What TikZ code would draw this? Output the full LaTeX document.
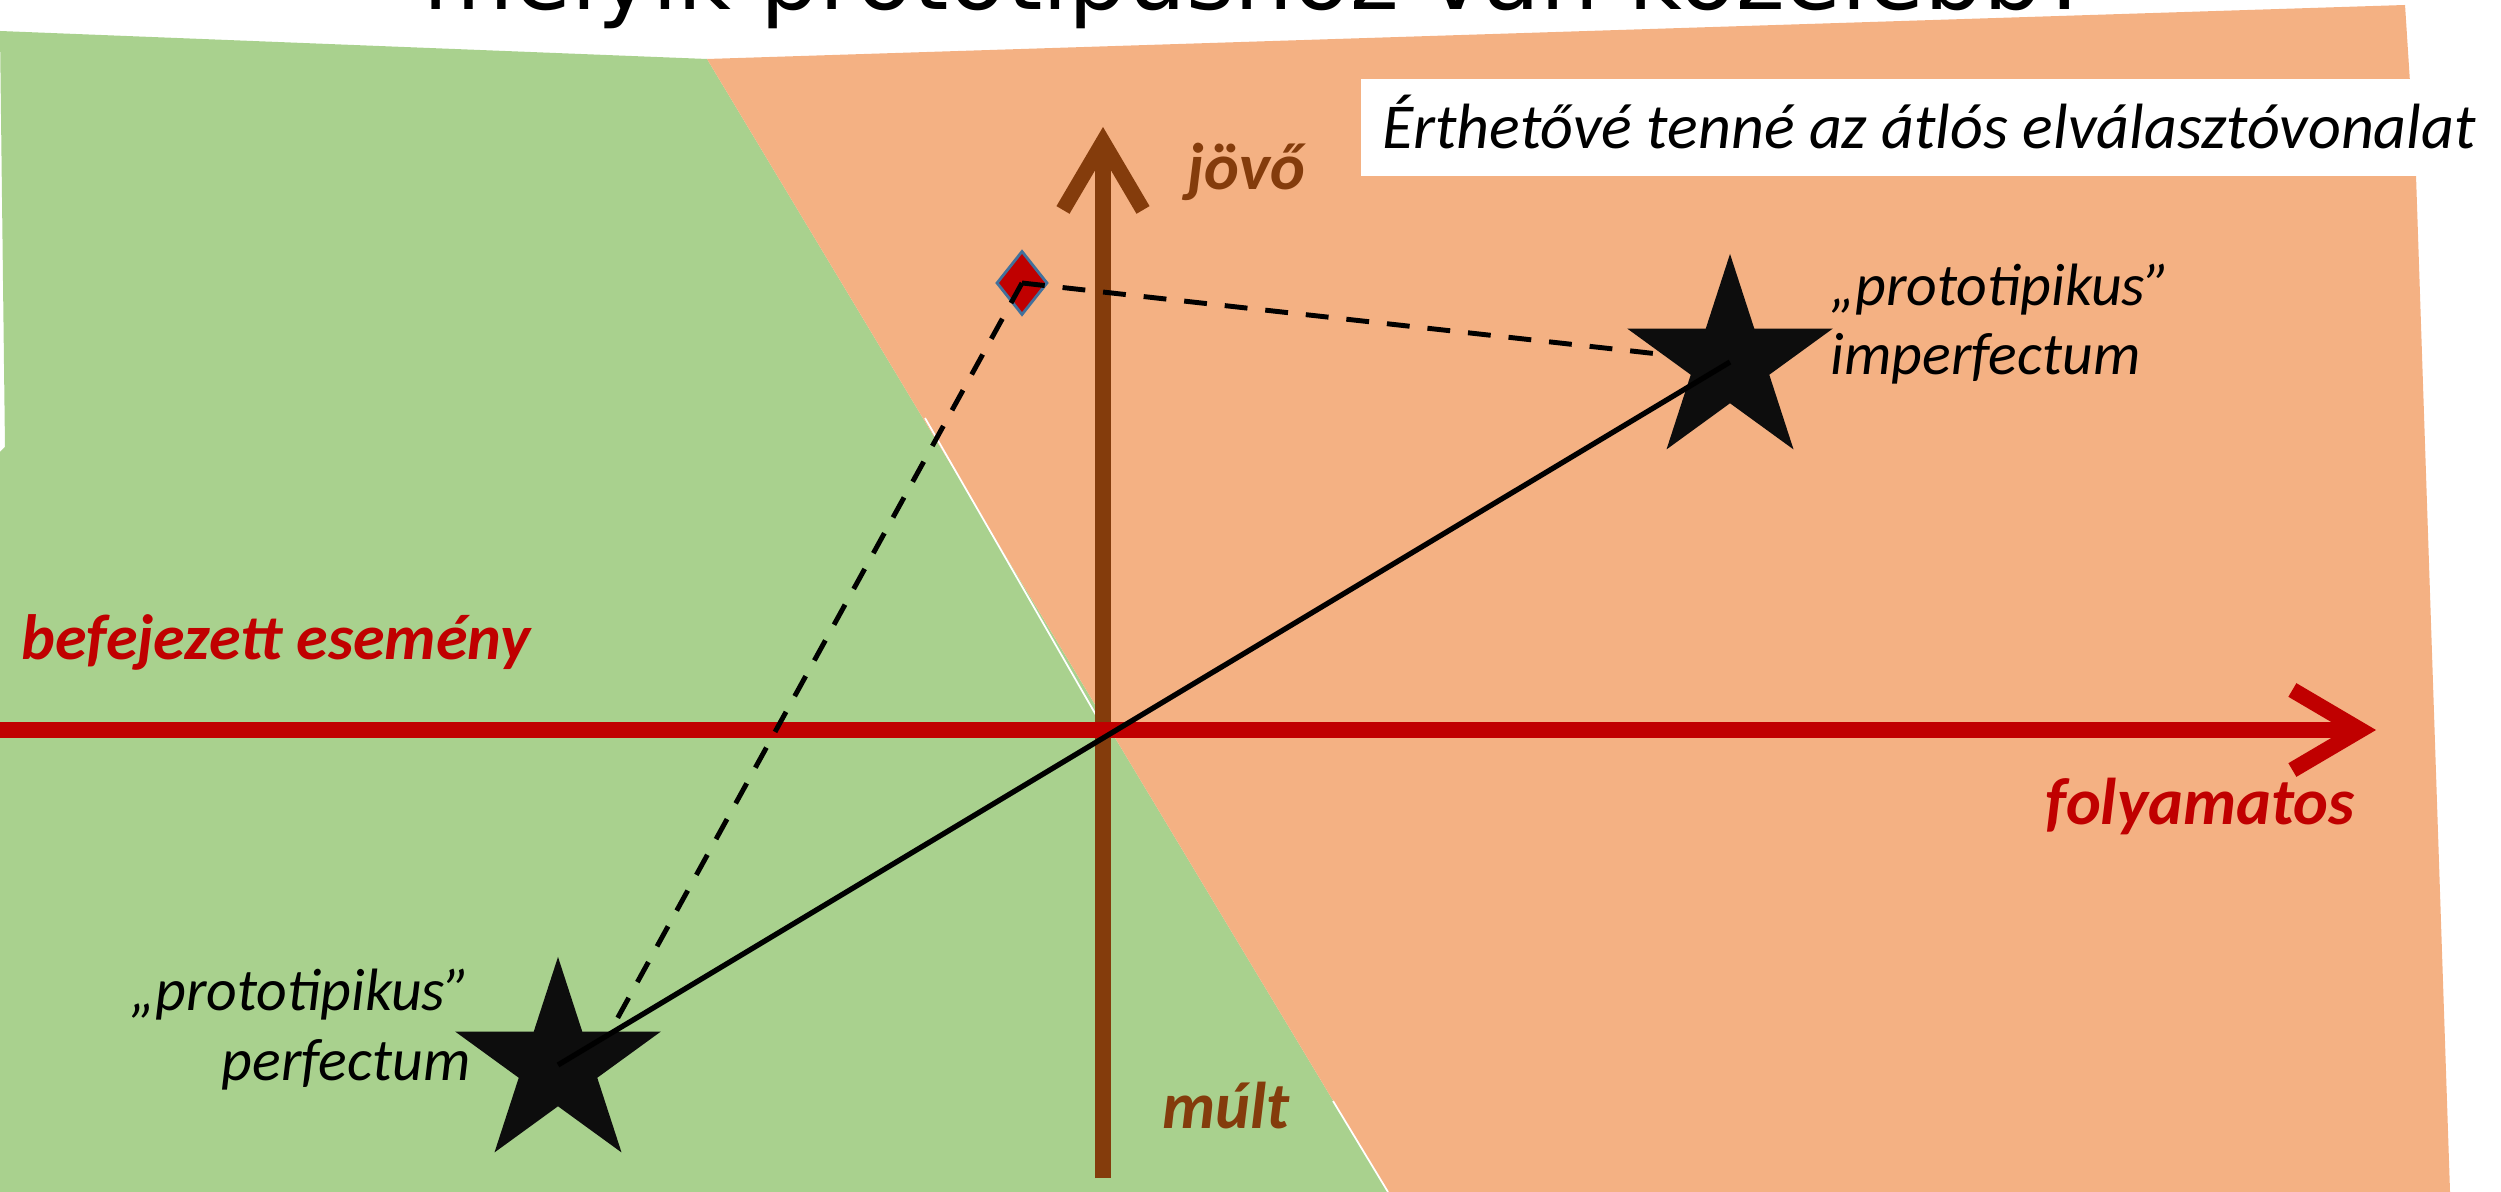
\documentclass[tikz,border=0pt]{standalone}
\usepackage{fontspec}
\setmainfont{Carlito}
\newfontfamily\cimbetu{DejaVu Sans}
\usetikzlibrary{shapes.geometric,arrows.meta}
\definecolor{zold}{HTML}{A9D18E}
\definecolor{narancs}{HTML}{F4B183}
\definecolor{piros}{HTML}{C00000}
\definecolor{barna}{HTML}{843C0C}
\definecolor{kek}{HTML}{41719C}
\definecolor{fekete}{HTML}{0D0D0D}
\newcommand{\betu}[0]{\fontsize{17}{19.9}\selectfont\itshape}
\newcommand{\nagybetu}[0]{\fontsize{18.8}{22}\selectfont\itshape\bfseries}
\newcommand{\nyilhegy}[0]{Straight Barb[length=0.68cm,width=0.80cm,line join=miter]}
\newcommand{\csillag}[2]{\node[csillagalak] (#1) at (#2) {}}

\begin{document}
\begin{tikzpicture}[x=0.01cm, y=-0.01cm,
	csillagalak/.style={star, star points=5, star point ratio=2.618,
		minimum size=2.16cm, inner sep=0, fill=fekete},
	rombusz/.style={diamond, minimum width=0.51cm, minimum height=0.64cm,
		inner sep=0, fill=piros, draw=kek, line width=0.8pt},
	szoveg/.style={font=\betu, inner sep=0},
	tengelyfelirat/.style={font=\nagybetu, inner sep=0},
	szaggatott/.style={line width=1.4pt, dash pattern=on 6.5pt off 5.1pt}]
%Background
	\useasboundingbox (0,0) rectangle (2501,1192);
	\clip (0,0) rectangle (2501,1192);
	\fill[zold] (0,31) -- (707,59) -- (1388,1192) -- (0,1192) -- (0,452) -- (5,447) -- cycle;
	\fill[narancs] (707,59) -- (2405,5) -- (2416,176) -- (2450,1192) -- (1388,1192) -- cycle;
	\draw[white, line width=0.5pt] (925,418) -- (1100,722);
	\draw[white, line width=0.5pt] (1333,1101) -- (1388,1192);
%Title and note
	\node[font=\cimbetu\fontsize{26.4}{30}\selectfont, anchor=base west, inner sep=0]
		(cim) at (423,10) {melyik prototípushoz van közelebb?};
	\node[font=\fontsize{18.2}{20}\selectfont\itshape, fill=white, anchor=base west,
		inner ysep=0, inner xsep=0.22cm, text height=0.70cm, text depth=0.27cm]
		(megj) at (1360,149) {Érthetővé tenné az átlós elválasztóvonalat};
%Axes
	\coordinate (bal) at (0,730);
	\coordinate (jobb) at (2376,730);
	\coordinate (lent) at (1103,1178);
	\coordinate (fent) at (1103,127);
	\draw[barna, line width=4.3pt, -{\nyilhegy}] (lent) -- (fent);
	\draw[piros, line width=4.5pt, -{\nyilhegy}] (bal) -- (jobb);
	\node[tengelyfelirat, font=\fontsize{18.2}{22}\selectfont\itshape\bfseries, text=piros,
		anchor=base west] (bef) at (21,660) {befejezett esemény};
	\node[tengelyfelirat, text=piros, anchor=base east] (foly) at (2355,824) {folyamatos};
	\node[tengelyfelirat, text=barna, anchor=base west] (jovo) at (1187,190) {jövő};
	\node[tengelyfelirat, text=barna, anchor=base west] (mult) at (1162,1128) {múlt};
%Prototypes
	\coordinate (pfk) at (558,1065);
	\coordinate (ipfk) at (1730,362);
	\coordinate (pfv) at (600,1050);
	\node[rombusz] (rb) at (1022,283) {};
	\draw[szaggatott] (rb.center) -- (pfv);
	\draw[szaggatott] (rb.center) -- (ipfk);
	\csillag{pf}{pfk};
	\csillag{ipf}{ipfk};
	\draw[line width=1.5pt] (pf.center) -- (ipf.center);
	\node[szoveg, align=right, anchor=base east] (pfl) at (471,1080) {„prototipikus”\\perfectum};
	\node[szoveg, align=left, anchor=base west] (ipfl) at (1830,375) {„prototipikus”\\imperfectum};
\end{tikzpicture}
\end{document}
